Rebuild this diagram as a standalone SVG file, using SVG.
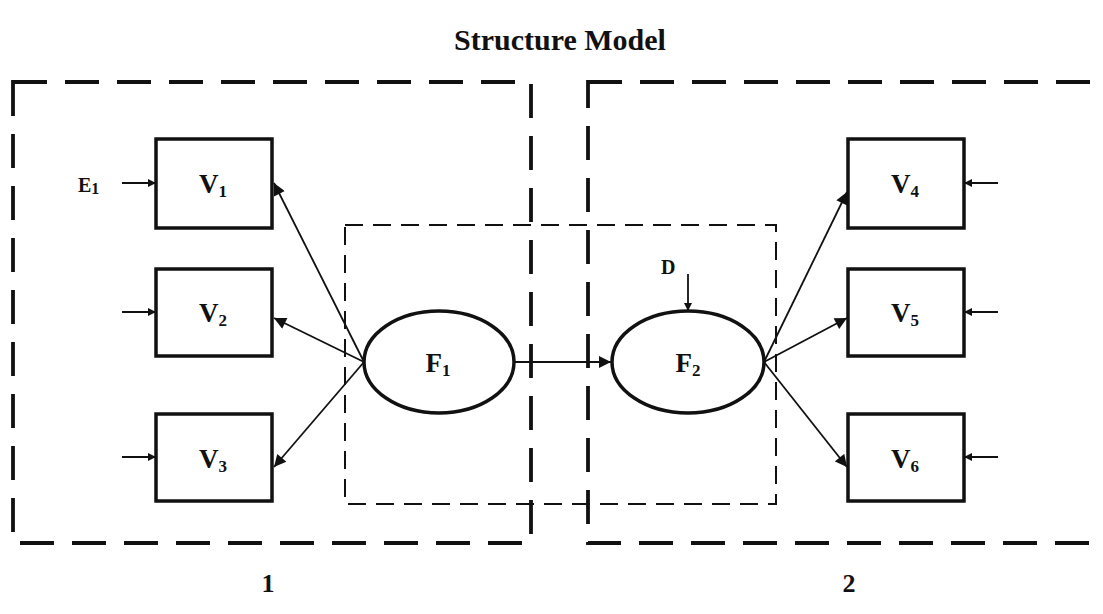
<svg xmlns="http://www.w3.org/2000/svg" width="1103" height="614" viewBox="0 0 1103 614">
  <style>
    .frame { fill: none; stroke: #111; stroke-width: 3.8; stroke-dasharray: 34 18; }
    .inner { fill: none; stroke: #111; stroke-width: 2; stroke-dasharray: 18 10; }
    .box { fill: #fff; stroke: #111; stroke-width: 3.5; }
    .lat { fill: #fff; stroke: #111; stroke-width: 3.5; }
    .edge { stroke: #111; stroke-width: 1.8; fill: none; marker-end: url(#arrow); }
    .load { marker-end: url(#arrowBig); }
    text { font-family: "Liberation Serif", "Times New Roman", serif; font-weight: bold; fill: #111; }
    .lbl { font-size: 27px; text-anchor: middle; }
    .sub { font-size: 17px; }
  </style>
  <defs>
    <marker id="arrow" viewBox="0 0 10 10" refX="10" refY="5" markerWidth="8" markerHeight="8" markerUnits="userSpaceOnUse" orient="auto">
      <path d="M0,0 L10,5 L0,10 z" fill="#111"/>
    </marker>
    <marker id="arrowBig" viewBox="0 0 10 10" refX="10" refY="5" markerWidth="13" markerHeight="12" markerUnits="userSpaceOnUse" orient="auto">
      <path d="M0,0 L10,5 L0,10 z" fill="#111"/>
    </marker>
  </defs>

  <rect width="1103" height="614" fill="#fff"/>

  <text x="560" y="50" font-size="30" text-anchor="middle">Structure Model</text>

  <!-- dashed group frames -->
  <g id="frames">
    <rect class="frame" x="13" y="82" width="518" height="461"/>
    <rect class="frame" x="588" y="82" width="540" height="461"/>
    <rect class="inner" x="345" y="225" width="431" height="279"/>
  </g>

  <!-- connectors -->
  <g id="connectors">
    <line class="edge" x1="122" y1="183" x2="156" y2="183"/>
    <line class="edge" x1="122" y1="312" x2="156" y2="312"/>
    <line class="edge" x1="122" y1="457" x2="156" y2="457"/>
    <line class="edge" x1="998" y1="183" x2="964" y2="183"/>
    <line class="edge" x1="998" y1="312" x2="964" y2="312"/>
    <line class="edge" x1="998" y1="457" x2="964" y2="457"/>
    <line class="edge load" x1="364" y1="362" x2="274" y2="183"/>
    <line class="edge load" x1="364" y1="362" x2="274" y2="318"/>
    <line class="edge load" x1="364" y1="362" x2="274" y2="467"/>
    <line class="edge load" x1="764" y1="362" x2="847" y2="192"/>
    <line class="edge load" x1="764" y1="362" x2="847" y2="318"/>
    <line class="edge load" x1="764" y1="362" x2="847" y2="467"/>
    <line class="edge load" x1="514" y1="362" x2="611" y2="362"/>
    <line class="edge" x1="688" y1="274" x2="688" y2="311"/>
  </g>

  <g id="V1"><rect class="box" x="156" y="139" width="116" height="89"/><text class="lbl" x="213" y="193">V<tspan class="sub" dy="4">1</tspan></text></g>
  <g id="V2"><rect class="box" x="156" y="269" width="116" height="87"/><text class="lbl" x="213" y="322">V<tspan class="sub" dy="4">2</tspan></text></g>
  <g id="V3"><rect class="box" x="156" y="414" width="116" height="87"/><text class="lbl" x="213" y="468">V<tspan class="sub" dy="4">3</tspan></text></g>
  <g id="V4"><rect class="box" x="848" y="139" width="116" height="89"/><text class="lbl" x="905" y="193">V<tspan class="sub" dy="4">4</tspan></text></g>
  <g id="V5"><rect class="box" x="848" y="269" width="116" height="87"/><text class="lbl" x="905" y="322">V<tspan class="sub" dy="4">5</tspan></text></g>
  <g id="V6"><rect class="box" x="848" y="414" width="116" height="87"/><text class="lbl" x="905" y="468">V<tspan class="sub" dy="4">6</tspan></text></g>

  <g id="F1"><ellipse class="lat" cx="439" cy="362" rx="75" ry="51"/><text class="lbl" x="438" y="372">F<tspan class="sub" dy="4">1</tspan></text></g>
  <g id="F2"><ellipse class="lat" cx="688" cy="362" rx="76" ry="51"/><text class="lbl" x="688" y="372">F<tspan class="sub" dy="4">2</tspan></text></g>

  <g id="E1"><text x="78" y="192" font-size="20">E<tspan font-size="16" dy="2">1</tspan></text></g>
  <g id="D"><text x="661" y="274" font-size="20">D</text></g>

  <text x="268" y="592" font-size="26" text-anchor="middle">1</text>
  <text x="849" y="592" font-size="26" text-anchor="middle">2</text>
</svg>
